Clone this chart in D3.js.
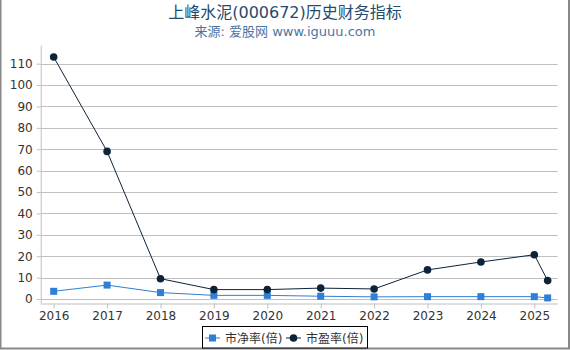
<!DOCTYPE html>
<html><head><meta charset="utf-8">
<script src="https://cdn.jsdelivr.net/npm/d3@7"></script>
<style>
html,body{margin:0;padding:0;background:#fff;}
svg{display:block;font-family:"DejaVu Sans","Noto Sans CJK SC",sans-serif;}
</style></head>
<body>
<svg id="c" width="570" height="350"></svg>
<script>
const title = "上峰水泥(000672)历史财务指标";
const subtitle = "来源: 爱股网 www.iguuu.com";
const years = [2016, 2017, 2018, 2019, 2020, 2021, 2022, 2023, 2024, 2025, 2025.25];
const pb = [3.6, 6.5, 3.0, 1.7, 1.7, 1.3, 1.0, 1.1, 1.1, 1.1, 0.5];
const pe = [113.1, 69.0, 9.5, 4.4, 4.4, 5.1, 4.7, 13.6, 17.3, 20.7, 8.6];
const xTicks = [2016, 2017, 2018, 2019, 2020, 2021, 2022, 2023, 2024, 2025];
const yTicks = [0, 10, 20, 30, 40, 50, 60, 70, 80, 90, 100, 110];
const seriesNames = ["市净率(倍)", "市盈率(倍)"];
const colors = ["#2f7ed8", "#0d233a"];

(function () {
const svg = d3.select("#c");
const pLeft = 40.7, pRight = 557.7, pTop = 45.5, pBottom = 303.5;
const x = d3.scaleLinear().domain([2015.757, 2025.438]).range([pLeft, pRight]);
const y = d3.scaleLinear().domain([-2.1, 118.5]).range([pBottom, pTop]);

// border (left, right, bottom)
svg.append("path").attr("d", "M0.5,0V348M569,0V348M0,348.5H570")
  .attr("fill", "none").attr("stroke", "#888").attr("stroke-width", 2);

// title
svg.append("text").attr("x", 285).attr("y", 18).attr("text-anchor", "middle")
  .attr("font-size", "16px").attr("fill", "#274b6d").text(title);
svg.append("text").attr("x", 285).attr("y", 36).attr("text-anchor", "middle")
  .attr("font-size", "13px").attr("fill", "#4d759e").text(subtitle);

// gridlines
const grid = svg.append("g");
grid.selectAll("line").data(yTicks).join("line")
  .attr("x1", pLeft).attr("x2", pRight)
  .attr("y1", d => Math.round(y(d)) + 0.5).attr("y2", d => Math.round(y(d)) + 0.5)
  .attr("stroke", "#c0c0c0").attr("stroke-width", 1);

// y axis
const yAxis = d3.axisLeft(y).tickValues(yTicks).tickSize(4).tickPadding(4);
const gy = svg.append("g").attr("transform", `translate(${pLeft},0)`).call(yAxis);
gy.select(".domain").remove();
gy.append("line").attr("x1", 0.5).attr("x2", 0.5).attr("y1", pTop).attr("y2", pBottom)
  .attr("stroke", "#c0c0c0");
gy.selectAll(".tick line").attr("stroke", "#c0c0c0");
gy.selectAll(".tick text").attr("font-size", "12px").attr("fill", "#333")
  .attr("font-family", "DejaVu Sans");

// x axis
const xAxis = d3.axisBottom(x).tickValues(xTicks).tickFormat(d3.format("d")).tickSize(5).tickPadding(3);
const gx = svg.append("g").attr("transform", `translate(0,${pBottom})`).call(xAxis);
gx.select(".domain").remove();
gx.append("line").attr("x1", pLeft).attr("x2", pRight).attr("y1", 0.5).attr("y2", 0.5)
  .attr("stroke", "#c0c0c0");
gx.selectAll(".tick line").attr("stroke", "#c0c0c0");
gx.selectAll(".tick text").attr("font-size", "12px").attr("fill", "#333")
  .attr("font-family", "DejaVu Sans");

// series
const line = d3.line().x((d, i) => x(years[i])).y(d => y(d));
svg.append("path").datum(pb).attr("d", line).attr("fill", "none")
  .attr("stroke", colors[0]).attr("stroke-width", 1);
svg.append("path").datum(pe).attr("d", line).attr("fill", "none")
  .attr("stroke", colors[1]).attr("stroke-width", 1);

svg.append("g").selectAll("rect").data(pb).join("rect")
  .attr("x", (d, i) => x(years[i]) - 3.5).attr("y", d => y(d) - 3.5)
  .attr("width", 7).attr("height", 7).attr("fill", colors[0]);
svg.append("g").selectAll("circle").data(pe).join("circle")
  .attr("cx", (d, i) => x(years[i])).attr("cy", d => y(d))
  .attr("r", 3.8).attr("fill", colors[1]);

// legend
const lg = svg.append("g");
lg.append("rect").attr("x", 202.5).attr("y", 326.5).attr("width", 165).attr("height", 21.5)
  .attr("fill", "#fff").attr("stroke", "#000").attr("stroke-width", 1);
const ly = 338;
lg.append("line").attr("x1", 205).attr("x2", 220).attr("y1", ly).attr("y2", ly)
  .attr("stroke", colors[0]).attr("stroke-width", 1);
lg.append("rect").attr("x", 209).attr("y", ly - 3.5).attr("width", 7).attr("height", 7).attr("fill", colors[0]);
lg.append("text").attr("x", 225).attr("y", ly + 4.5).attr("font-size", "12px").attr("fill", "#333").text(seriesNames[0]);
lg.append("line").attr("x1", 286).attr("x2", 301).attr("y1", ly).attr("y2", ly)
  .attr("stroke", colors[1]).attr("stroke-width", 1);
lg.append("circle").attr("cx", 293.5).attr("cy", ly).attr("r", 3.8).attr("fill", colors[1]);
lg.append("text").attr("x", 306).attr("y", ly + 4.5).attr("font-size", "12px").attr("fill", "#333").text(seriesNames[1]);
})();
</script>
</body></html>
